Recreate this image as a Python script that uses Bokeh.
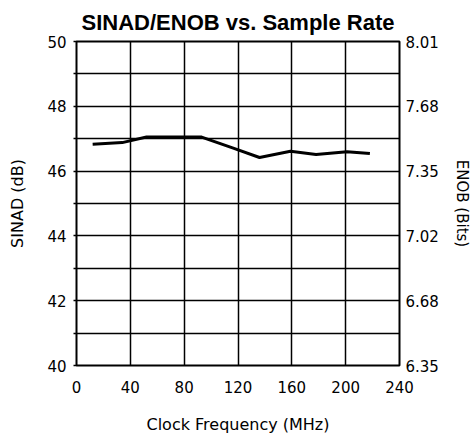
from bokeh.plotting import figure
from bokeh.models import Range1d, LinearAxis, FixedTicker, Title, Grid
from bokeh.embed import file_html
from bokeh.resources import INLINE

# ---- data ----
clock_mhz = [12, 34, 52, 80, 93, 117, 136, 159, 178, 201, 218]
sinad_db = [46.83, 46.88, 47.05, 47.05, 47.05, 46.70, 46.42, 46.61, 46.51, 46.60, 46.54]

x_ticks = [0, 40, 80, 120, 160, 200, 240]
y_grid_ticks = [40, 41, 42, 43, 44, 45, 46, 47, 48, 49, 50]
y_label_ticks = [40, 42, 44, 46, 48, 50]
enob_labels = ["6.35", "6.68", "7.02", "7.35", "7.68", "8.01"]

title_text = "SINAD/ENOB vs. Sample Rate"
x_title = "Clock Frequency (MHz)"
y_title = "SINAD (dB)"
y2_title = "ENOB (Bits)"

FONT = "DejaVu Sans"

p = figure(output_backend="svg", toolbar_location=None,
           x_range=Range1d(0, 240), y_range=Range1d(40, 50),
           x_axis_type=None, y_axis_type=None,
           frame_width=323, frame_height=324,
           min_border_left=0, min_border_right=0, min_border_top=35, min_border_bottom=0)
p.margin = (0, 0, 0, 5)
p.background_fill_color = "white"
p.border_fill_color = "white"
p.outline_line_color = "black"
p.outline_line_width = 2


def style(ax, label_size):
    ax.axis_line_color = None
    ax.minor_tick_line_color = None
    ax.major_tick_in = 0
    ax.major_label_text_font = FONT
    ax.major_label_text_font_size = "15px"
    ax.major_label_text_color = "black"
    ax.axis_label_text_font = FONT
    ax.axis_label_text_font_size = label_size
    ax.axis_label_text_font_style = "normal"
    ax.axis_label_text_color = "black"


# bottom axis
xa = LinearAxis(ticker=FixedTicker(ticks=x_ticks), axis_label=x_title)
style(xa, "16px")
xa.major_tick_out = 0
xa.major_label_standoff = 15
xa.axis_label_standoff = 19
p.add_layout(xa, "below")

# left axis
overrides = {t: "" for t in y_grid_ticks if t not in y_label_ticks}
ya = LinearAxis(ticker=FixedTicker(ticks=y_grid_ticks), major_label_overrides=overrides,
                axis_label=y_title)
style(ya, "16px")
ya.major_tick_out = 3
ya.major_tick_line_width = 1.5
ya.major_label_standoff = 7
ya.axis_label_standoff = 17
p.add_layout(ya, "left")

# right axis (ENOB)
r_over = {t: lab for t, lab in zip(y_label_ticks, enob_labels)}
ra = LinearAxis(ticker=FixedTicker(ticks=y_label_ticks), major_label_overrides=r_over,
                axis_label=y2_title)
style(ra, "15px")
ra.major_tick_out = 0
ra.major_label_standoff = 6
ra.axis_label_standoff = 11
p.add_layout(ra, "right")

# grids
p.add_layout(Grid(dimension=0, ticker=FixedTicker(ticks=x_ticks),
                  grid_line_color="black", grid_line_width=1.5))
p.add_layout(Grid(dimension=1, ticker=FixedTicker(ticks=y_grid_ticks),
                  grid_line_color="black", grid_line_width=1.5))

p.line(clock_mhz, sinad_db, line_color="black", line_width=3)

t = Title(text=title_text, align="center", text_font="Liberation Sans",
          text_font_size="22px", text_font_style="bold", text_color="black", standoff=14)
p.add_layout(t, "above")

open("out.html", "w").write(file_html(p, INLINE))
